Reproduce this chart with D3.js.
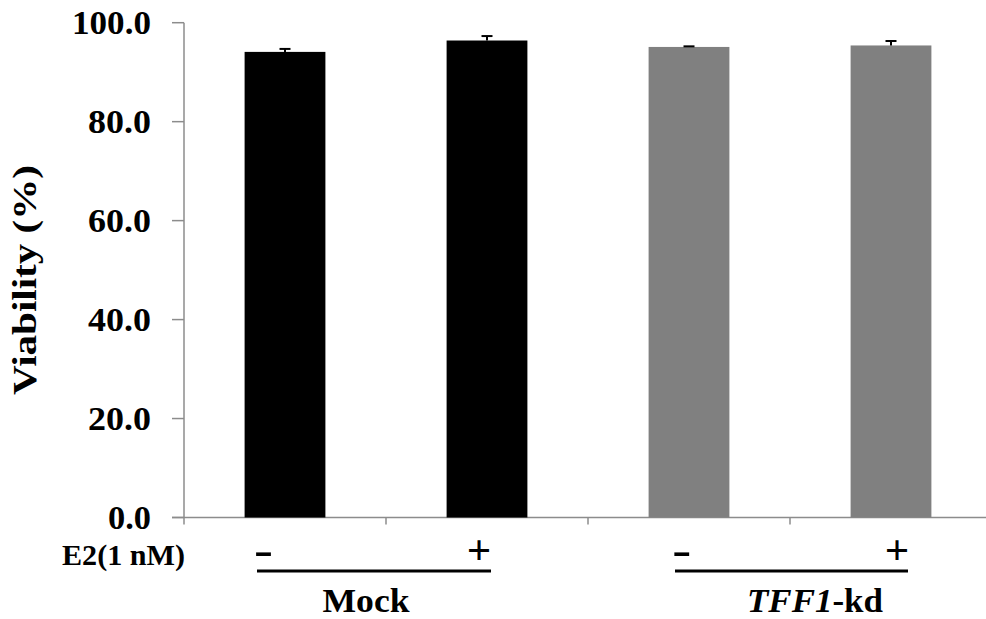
<!DOCTYPE html>
<html>
<head>
<meta charset="utf-8">
<script src="https://cdn.jsdelivr.net/npm/d3@7"></script>
<style>
  html, body { margin: 0; padding: 0; background: #fff; }
  svg { display: block; }
</style>
</head>
<body>
<svg id="chart" width="986" height="619"></svg>
<script>
// Cell viability with / without E2 treatment
const categories = ["Mock -", "Mock +", "TFF1-kd -", "TFF1-kd +"];
const viability  = [94.1, 96.4, 95.1, 95.4];
const errors     = [0.6, 0.9, 0.12, 0.9];
const barColors  = ["#000000", "#000000", "#808080", "#808080"];
const treatment  = ["-", "+", "-", "+"];
const yTicks     = [0, 20, 40, 60, 80, 100];

const FONT = "Liberation Serif";
const svg = d3.select("#chart");
const axisColor = "#8c8c8c";

function label(sel) {
  return sel.attr("font-family", FONT).attr("font-weight", "bold").attr("fill", "#000");
}

// Scales
const y = d3.scaleLinear().domain([0, 100]).range([517.5, 22.7]);
const x = d3.scaleBand().domain(categories)
  .range([184, 992]).paddingInner(0.6).paddingOuter(0.3);
const step = x.step();
const x0 = 184;

// Y axis
const yAxis = svg.append("g");
yAxis.append("line")
  .attr("x1", x0).attr("x2", x0)
  .attr("y1", y(100)).attr("y2", y(0))
  .attr("stroke", axisColor).attr("stroke-width", 1.5);
yAxis.selectAll("line.tick").data(yTicks).join("line")
  .attr("class", "tick")
  .attr("x1", x0 - 12).attr("x2", x0)
  .attr("y1", d => y(d)).attr("y2", d => y(d))
  .attr("stroke", axisColor).attr("stroke-width", 1.5);
yAxis.selectAll("text").data(yTicks).join("text")
  .call(label)
  .attr("x", 151).attr("y", d => y(d))
  .attr("dy", "0.34em")
  .attr("text-anchor", "end")
  .attr("font-size", 34)
  .attr("textLength", d => d === 100 ? 79 : d === 0 ? 43 : 63)
  .attr("lengthAdjust", "spacingAndGlyphs")
  .text(d => d3.format(".1f")(d));

// X axis with boundary ticks between categories
const xAxis = svg.append("g");
xAxis.append("line")
  .attr("x1", x0 - 12).attr("x2", 992)
  .attr("y1", y(0)).attr("y2", y(0))
  .attr("stroke", axisColor).attr("stroke-width", 1.5);
xAxis.selectAll("line.tick").data(d3.range(categories.length + 1)).join("line")
  .attr("class", "tick")
  .attr("x1", i => x0 + i * step).attr("x2", i => x0 + i * step)
  .attr("y1", y(0)).attr("y2", y(0) + 7)
  .attr("stroke", axisColor).attr("stroke-width", 1.5);

// Bars
svg.append("g").selectAll("rect").data(categories).join("rect")
  .attr("x", d => x(d))
  .attr("width", x.bandwidth())
  .attr("y", (d, i) => y(viability[i]))
  .attr("height", (d, i) => y(0) - y(viability[i]))
  .attr("fill", (d, i) => barColors[i]);

// Error bars (upper)
const eb = svg.append("g").attr("stroke", "#000").attr("stroke-width", 2);
categories.forEach((c, i) => {
  const cx = x(c) + x.bandwidth() / 2;
  const top = y(viability[i] + errors[i]);
  eb.append("line").attr("x1", cx).attr("x2", cx)
    .attr("y1", y(viability[i])).attr("y2", top);
  eb.append("line").attr("x1", cx - 5.5).attr("x2", cx + 5.5)
    .attr("y1", top).attr("y2", top);
});

// Y axis title
svg.append("text")
  .call(label)
  .attr("transform", "translate(36,280) rotate(-90)")
  .attr("text-anchor", "middle")
  .attr("textLength", 230).attr("lengthAdjust", "spacingAndGlyphs")
  .attr("font-size", 33)
  .text("Viability (%)");

// Treatment row
svg.append("text")
  .call(label)
  .attr("x", 62).attr("y", 565)
  .attr("textLength", 123).attr("lengthAdjust", "spacingAndGlyphs")
  .attr("font-size", 30)
  .text("E2(1 nM)");

const signX = [263.5, 479, 681.7, 897];
svg.append("g").selectAll("text").data(treatment).join("text")
  .call(label)
  .attr("x", (d, i) => signX[i])
  .attr("y", 564)
  .attr("text-anchor", "middle")
  .attr("font-size", 43)
  .attr("textLength", d => d === "-" ? 19 : null)
  .attr("lengthAdjust", "spacingAndGlyphs")
  .text(d => d);

// Group underlines
const groups = [
  { x1: 257, x2: 491 },
  { x1: 675, x2: 908 }
];
svg.append("g").selectAll("line").data(groups).join("line")
  .attr("x1", d => d.x1).attr("x2", d => d.x2)
  .attr("y1", 571).attr("y2", 571)
  .attr("stroke", "#000").attr("stroke-width", 3);

// Group names
svg.append("text")
  .call(label)
  .attr("x", 366).attr("y", 611.5)
  .attr("text-anchor", "middle")
  .attr("textLength", 87).attr("lengthAdjust", "spacingAndGlyphs")
  .attr("font-size", 33)
  .text("Mock");

const kd = svg.append("text")
  .call(label)
  .attr("x", 747).attr("y", 611.5)
  .attr("textLength", 136).attr("lengthAdjust", "spacingAndGlyphs")
  .attr("font-size", 33);
kd.append("tspan").attr("font-style", "italic").text("TFF1");
kd.append("tspan").text("-kd");
</script>
</body>
</html>
